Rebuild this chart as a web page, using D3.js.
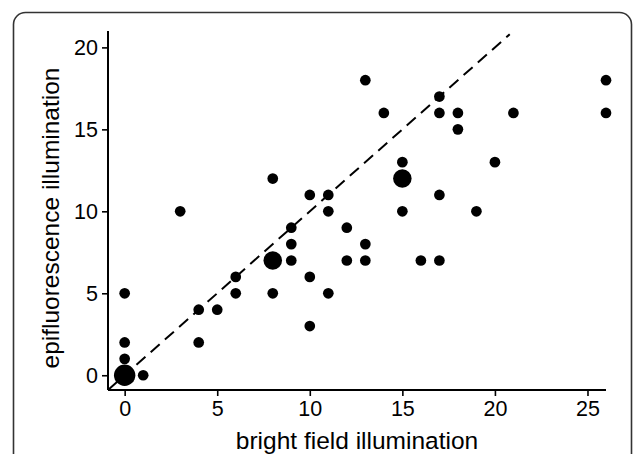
<!DOCTYPE html>
<html><head><meta charset="utf-8">
<script src="https://cdn.jsdelivr.net/npm/d3@7"></script>
<style>body{margin:0;background:#fff}svg{display:block}</style>
</head><body>
<svg id="c" width="633" height="454"></svg>
<script>
// data: bright field (x) vs epifluorescence (y), n = number of overlapping observations
const brightField = [0,1,0,0,0,3,4,4,5,6,6,8,8,8,9,9,9,10,10,10,11,11,11,12,12,13,13,13,14,15,15,15,16,17,17,17,17,18,18,19,20,21,26,26];
const epifluor    = [0,0,1,2,5,10,4,2,4,6,5,12,7,5,9,8,7,11,6,3,11,10,5,9,7,18,8,7,16,13,12,10,7,17,16,11,7,16,15,10,13,16,18,16];
const counts      = [4,1,1,1,1,1,1,1,1,1,1,1,3,1,1,1,1,1,1,1,1,1,1,1,1,1,1,1,1,1,3,1,1,1,1,1,1,1,1,1,1,1,1,1];
const xTicks = [0,5,10,15,20,25];
const yTicks = [0,5,10,15,20];
const xLabel = "bright field illumination";
const yLabel = "epifluorescence illumination";

const svg = d3.select("#c");
const font = "'Liberation Sans', Arial, sans-serif";

// frame
svg.append("rect").attr("x",13.5).attr("y",12.5).attr("width",618).attr("height",480)
  .attr("rx",12).attr("fill","none").attr("stroke","#333").attr("stroke-width",1.6);

const x = d3.scaleLinear().domain([-0.9,26]).range([108,606]);
const y = d3.scaleLinear().domain([-0.9,21]).range([390,31]);
const r = d3.scaleSqrt().domain([0,4]).range([0,10.7]);

const g = svg.append("g");

g.append("line")
  .attr("x1",x(-0.9)).attr("y1",y(-0.9)).attr("x2",x(20.8)).attr("y2",y(20.8))
  .attr("stroke","#000").attr("stroke-width",2).attr("stroke-dasharray","12,7");

const pts = brightField.map((v,i)=>({x:v,y:epifluor[i],n:counts[i]}));
g.selectAll("circle").data(pts).join("circle")
  .attr("cx",d=>x(d.x)).attr("cy",d=>y(d.y)).attr("r",d=>r(d.n)).attr("fill","#000");

const xa = svg.append("g").attr("transform","translate(0,390)")
  .call(d3.axisBottom(x).tickValues(xTicks).tickSize(6).tickPadding(5).tickFormat(d3.format("d")));
const ya = svg.append("g").attr("transform","translate(108,0)")
  .call(d3.axisLeft(y).tickValues(yTicks).tickSize(6).tickPadding(4).tickFormat(d3.format("d")));
[xa,ya].forEach(a=>{
  a.select(".domain").attr("stroke","#000").attr("stroke-width",2);
  a.selectAll(".tick line").attr("stroke","#000").attr("stroke-width",1.6);
  a.selectAll(".tick text").attr("fill","#000").style("font-family",font).style("font-size","21.5px");
});
xa.select(".domain").attr("d",`M${x(-0.9)},0H${x(26)}`);
ya.select(".domain").attr("d",`M0,${y(21)}V${y(-0.9)}`);

svg.append("text").attr("x",357).attr("y",449).attr("text-anchor","middle")
  .style("font-family",font).style("font-size","24.5px").attr("fill","#000").text(xLabel);
svg.append("text").attr("transform","translate(59,218) rotate(-90)").attr("text-anchor","middle")
  .style("font-family",font).style("font-size","24.5px").attr("fill","#000").text(yLabel);
</script>
</body></html>
